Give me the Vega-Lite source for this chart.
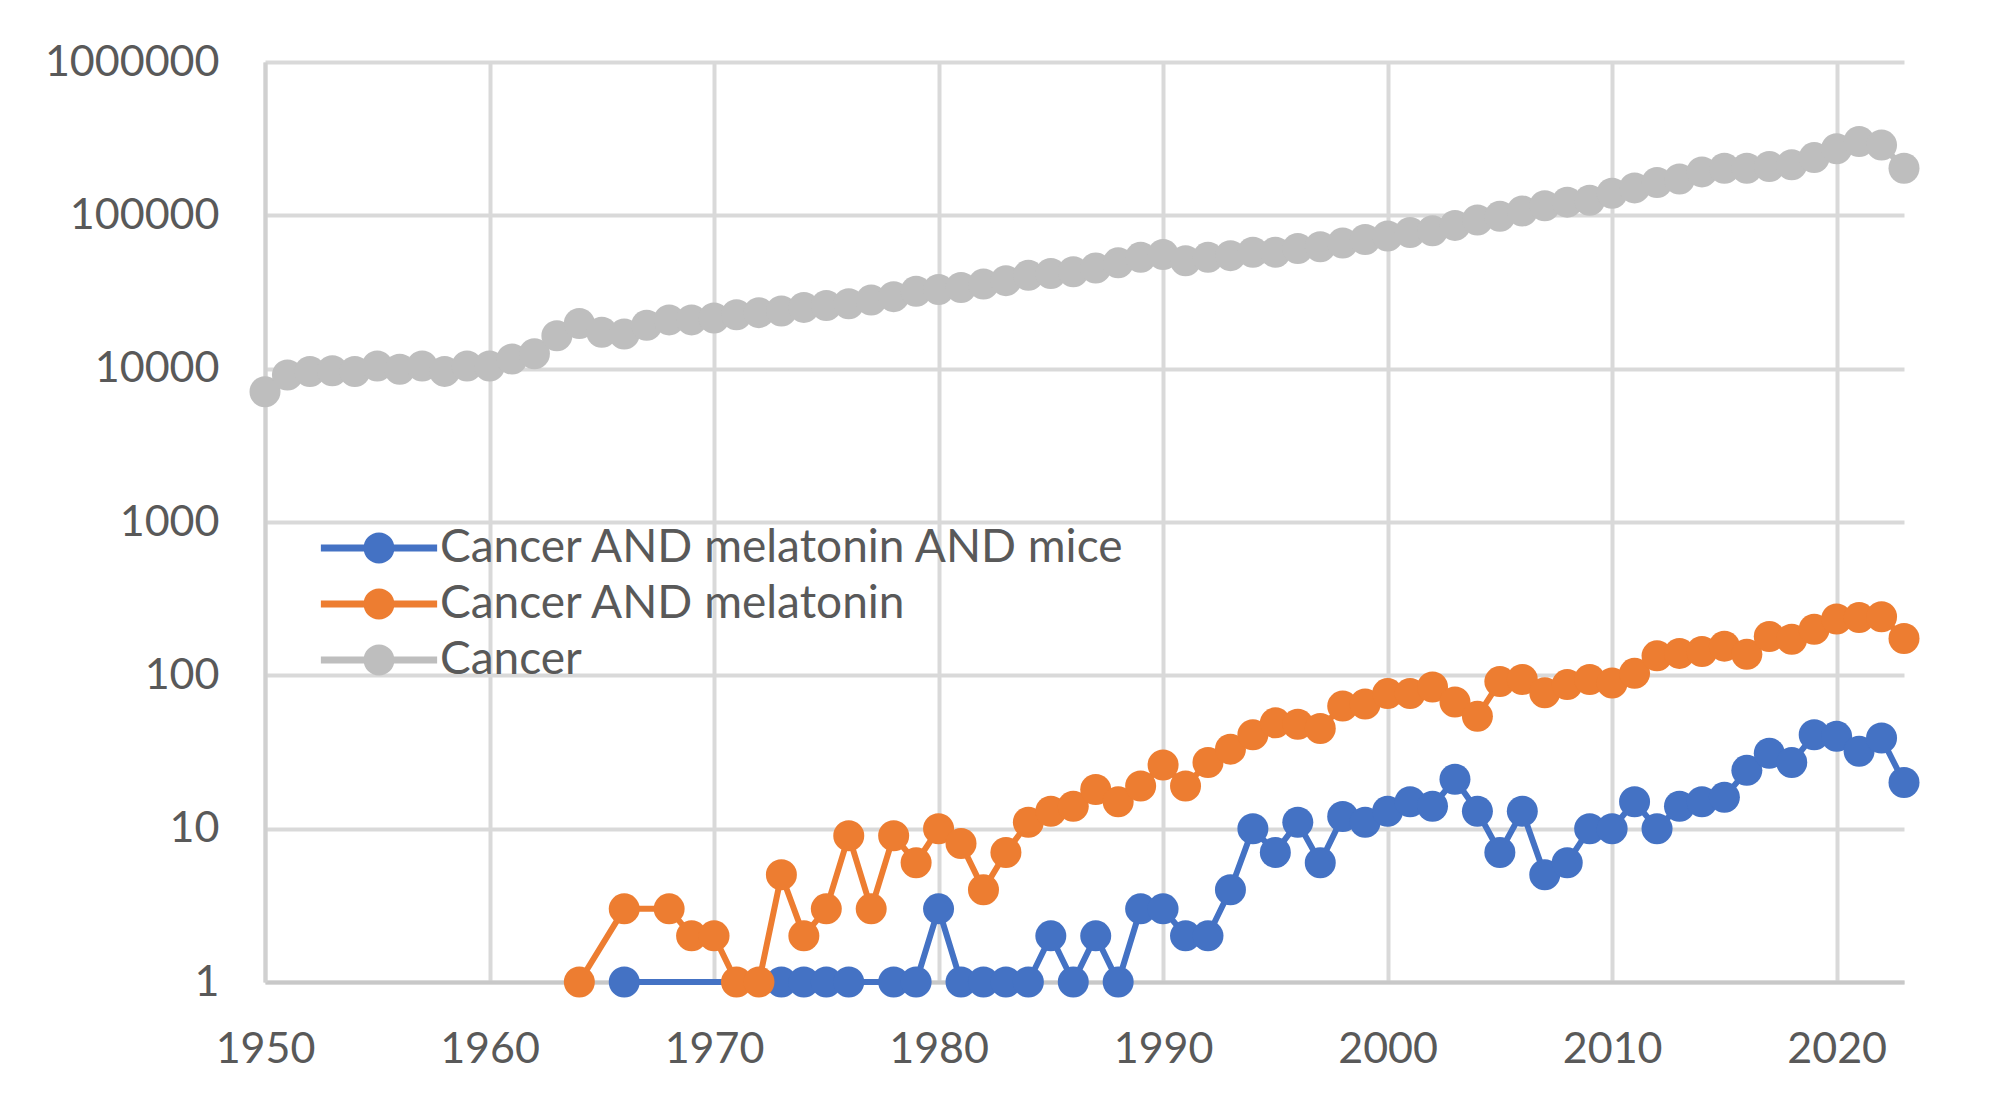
{
  "$schema": "https://vega.github.io/schema/vega-lite/v6.json",
  "width": 1639,
  "height": 920,
  "autosize": {"type": "none"},
  "padding": {"left": 265, "top": 62, "right": 96, "bottom": 125},
  "background": "white",
  "config": {
    "view": {"stroke": null},
    "font": "Lato",
    "axis": {"labelFont": "Lato", "labelFontSize": 43, "labelColor": "#595959", "ticks": false, "gridColor": "#d9d9d9", "gridWidth": 4, "title": null},
    "legend": {"labelFont": "Lato", "labelFontSize": 46, "labelColor": "#595959", "labelLimit": 0}
  },
  "data": {
    "values": [
      {"s": "Cancer AND melatonin AND mice", "year": 1966, "v": 1},
      {"s": "Cancer AND melatonin AND mice", "year": 1973, "v": 1},
      {"s": "Cancer AND melatonin AND mice", "year": 1974, "v": 1},
      {"s": "Cancer AND melatonin AND mice", "year": 1975, "v": 1},
      {"s": "Cancer AND melatonin AND mice", "year": 1976, "v": 1},
      {"s": "Cancer AND melatonin AND mice", "year": 1978, "v": 1},
      {"s": "Cancer AND melatonin AND mice", "year": 1979, "v": 1},
      {"s": "Cancer AND melatonin AND mice", "year": 1980, "v": 3},
      {"s": "Cancer AND melatonin AND mice", "year": 1981, "v": 1},
      {"s": "Cancer AND melatonin AND mice", "year": 1982, "v": 1},
      {"s": "Cancer AND melatonin AND mice", "year": 1983, "v": 1},
      {"s": "Cancer AND melatonin AND mice", "year": 1984, "v": 1},
      {"s": "Cancer AND melatonin AND mice", "year": 1985, "v": 2},
      {"s": "Cancer AND melatonin AND mice", "year": 1986, "v": 1},
      {"s": "Cancer AND melatonin AND mice", "year": 1987, "v": 2},
      {"s": "Cancer AND melatonin AND mice", "year": 1988, "v": 1},
      {"s": "Cancer AND melatonin AND mice", "year": 1989, "v": 3},
      {"s": "Cancer AND melatonin AND mice", "year": 1990, "v": 3},
      {"s": "Cancer AND melatonin AND mice", "year": 1991, "v": 2},
      {"s": "Cancer AND melatonin AND mice", "year": 1992, "v": 2},
      {"s": "Cancer AND melatonin AND mice", "year": 1993, "v": 4},
      {"s": "Cancer AND melatonin AND mice", "year": 1994, "v": 10},
      {"s": "Cancer AND melatonin AND mice", "year": 1995, "v": 7},
      {"s": "Cancer AND melatonin AND mice", "year": 1996, "v": 11},
      {"s": "Cancer AND melatonin AND mice", "year": 1997, "v": 6},
      {"s": "Cancer AND melatonin AND mice", "year": 1998, "v": 12},
      {"s": "Cancer AND melatonin AND mice", "year": 1999, "v": 11},
      {"s": "Cancer AND melatonin AND mice", "year": 2000, "v": 13},
      {"s": "Cancer AND melatonin AND mice", "year": 2001, "v": 15},
      {"s": "Cancer AND melatonin AND mice", "year": 2002, "v": 14},
      {"s": "Cancer AND melatonin AND mice", "year": 2003, "v": 21},
      {"s": "Cancer AND melatonin AND mice", "year": 2004, "v": 13},
      {"s": "Cancer AND melatonin AND mice", "year": 2005, "v": 7},
      {"s": "Cancer AND melatonin AND mice", "year": 2006, "v": 13},
      {"s": "Cancer AND melatonin AND mice", "year": 2007, "v": 5},
      {"s": "Cancer AND melatonin AND mice", "year": 2008, "v": 6},
      {"s": "Cancer AND melatonin AND mice", "year": 2009, "v": 10},
      {"s": "Cancer AND melatonin AND mice", "year": 2010, "v": 10},
      {"s": "Cancer AND melatonin AND mice", "year": 2011, "v": 15},
      {"s": "Cancer AND melatonin AND mice", "year": 2012, "v": 10},
      {"s": "Cancer AND melatonin AND mice", "year": 2013, "v": 14},
      {"s": "Cancer AND melatonin AND mice", "year": 2014, "v": 15},
      {"s": "Cancer AND melatonin AND mice", "year": 2015, "v": 16},
      {"s": "Cancer AND melatonin AND mice", "year": 2016, "v": 24},
      {"s": "Cancer AND melatonin AND mice", "year": 2017, "v": 31},
      {"s": "Cancer AND melatonin AND mice", "year": 2018, "v": 27},
      {"s": "Cancer AND melatonin AND mice", "year": 2019, "v": 41},
      {"s": "Cancer AND melatonin AND mice", "year": 2020, "v": 40},
      {"s": "Cancer AND melatonin AND mice", "year": 2021, "v": 32},
      {"s": "Cancer AND melatonin AND mice", "year": 2022, "v": 39},
      {"s": "Cancer AND melatonin AND mice", "year": 2023, "v": 20},
      {"s": "Cancer AND melatonin", "year": 1964, "v": 1},
      {"s": "Cancer AND melatonin", "year": 1966, "v": 3},
      {"s": "Cancer AND melatonin", "year": 1968, "v": 3},
      {"s": "Cancer AND melatonin", "year": 1969, "v": 2},
      {"s": "Cancer AND melatonin", "year": 1970, "v": 2},
      {"s": "Cancer AND melatonin", "year": 1971, "v": 1},
      {"s": "Cancer AND melatonin", "year": 1972, "v": 1},
      {"s": "Cancer AND melatonin", "year": 1973, "v": 5},
      {"s": "Cancer AND melatonin", "year": 1974, "v": 2},
      {"s": "Cancer AND melatonin", "year": 1975, "v": 3},
      {"s": "Cancer AND melatonin", "year": 1976, "v": 9},
      {"s": "Cancer AND melatonin", "year": 1977, "v": 3},
      {"s": "Cancer AND melatonin", "year": 1978, "v": 9},
      {"s": "Cancer AND melatonin", "year": 1979, "v": 6},
      {"s": "Cancer AND melatonin", "year": 1980, "v": 10},
      {"s": "Cancer AND melatonin", "year": 1981, "v": 8},
      {"s": "Cancer AND melatonin", "year": 1982, "v": 4},
      {"s": "Cancer AND melatonin", "year": 1983, "v": 7},
      {"s": "Cancer AND melatonin", "year": 1984, "v": 11},
      {"s": "Cancer AND melatonin", "year": 1985, "v": 13},
      {"s": "Cancer AND melatonin", "year": 1986, "v": 14},
      {"s": "Cancer AND melatonin", "year": 1987, "v": 18},
      {"s": "Cancer AND melatonin", "year": 1988, "v": 15},
      {"s": "Cancer AND melatonin", "year": 1989, "v": 19},
      {"s": "Cancer AND melatonin", "year": 1990, "v": 26},
      {"s": "Cancer AND melatonin", "year": 1991, "v": 19},
      {"s": "Cancer AND melatonin", "year": 1992, "v": 27},
      {"s": "Cancer AND melatonin", "year": 1993, "v": 33},
      {"s": "Cancer AND melatonin", "year": 1994, "v": 41},
      {"s": "Cancer AND melatonin", "year": 1995, "v": 49},
      {"s": "Cancer AND melatonin", "year": 1996, "v": 48},
      {"s": "Cancer AND melatonin", "year": 1997, "v": 45},
      {"s": "Cancer AND melatonin", "year": 1998, "v": 63},
      {"s": "Cancer AND melatonin", "year": 1999, "v": 65},
      {"s": "Cancer AND melatonin", "year": 2000, "v": 76},
      {"s": "Cancer AND melatonin", "year": 2001, "v": 76},
      {"s": "Cancer AND melatonin", "year": 2002, "v": 84},
      {"s": "Cancer AND melatonin", "year": 2003, "v": 67},
      {"s": "Cancer AND melatonin", "year": 2004, "v": 54},
      {"s": "Cancer AND melatonin", "year": 2005, "v": 91},
      {"s": "Cancer AND melatonin", "year": 2006, "v": 94},
      {"s": "Cancer AND melatonin", "year": 2007, "v": 77},
      {"s": "Cancer AND melatonin", "year": 2008, "v": 87},
      {"s": "Cancer AND melatonin", "year": 2009, "v": 94},
      {"s": "Cancer AND melatonin", "year": 2010, "v": 89},
      {"s": "Cancer AND melatonin", "year": 2011, "v": 103},
      {"s": "Cancer AND melatonin", "year": 2012, "v": 134},
      {"s": "Cancer AND melatonin", "year": 2013, "v": 139},
      {"s": "Cancer AND melatonin", "year": 2014, "v": 143},
      {"s": "Cancer AND melatonin", "year": 2015, "v": 155},
      {"s": "Cancer AND melatonin", "year": 2016, "v": 137},
      {"s": "Cancer AND melatonin", "year": 2017, "v": 179},
      {"s": "Cancer AND melatonin", "year": 2018, "v": 172},
      {"s": "Cancer AND melatonin", "year": 2019, "v": 200},
      {"s": "Cancer AND melatonin", "year": 2020, "v": 233},
      {"s": "Cancer AND melatonin", "year": 2021, "v": 238},
      {"s": "Cancer AND melatonin", "year": 2022, "v": 241},
      {"s": "Cancer AND melatonin", "year": 2023, "v": 174},
      {"s": "Cancer", "year": 1950, "v": 7070},
      {"s": "Cancer", "year": 1951, "v": 9090},
      {"s": "Cancer", "year": 1952, "v": 9580},
      {"s": "Cancer", "year": 1953, "v": 9700},
      {"s": "Cancer", "year": 1954, "v": 9580},
      {"s": "Cancer", "year": 1955, "v": 10400},
      {"s": "Cancer", "year": 1956, "v": 9900},
      {"s": "Cancer", "year": 1957, "v": 10400},
      {"s": "Cancer", "year": 1958, "v": 9600},
      {"s": "Cancer", "year": 1959, "v": 10400},
      {"s": "Cancer", "year": 1960, "v": 10400},
      {"s": "Cancer", "year": 1961, "v": 11550},
      {"s": "Cancer", "year": 1962, "v": 12500},
      {"s": "Cancer", "year": 1963, "v": 16400},
      {"s": "Cancer", "year": 1964, "v": 19700},
      {"s": "Cancer", "year": 1965, "v": 17300},
      {"s": "Cancer", "year": 1966, "v": 16800},
      {"s": "Cancer", "year": 1967, "v": 19200},
      {"s": "Cancer", "year": 1968, "v": 20800},
      {"s": "Cancer", "year": 1969, "v": 20800},
      {"s": "Cancer", "year": 1970, "v": 21400},
      {"s": "Cancer", "year": 1971, "v": 22500},
      {"s": "Cancer", "year": 1972, "v": 23200},
      {"s": "Cancer", "year": 1973, "v": 23800},
      {"s": "Cancer", "year": 1974, "v": 25100},
      {"s": "Cancer", "year": 1975, "v": 25800},
      {"s": "Cancer", "year": 1976, "v": 26500},
      {"s": "Cancer", "year": 1977, "v": 28000},
      {"s": "Cancer", "year": 1978, "v": 29500},
      {"s": "Cancer", "year": 1979, "v": 32000},
      {"s": "Cancer", "year": 1980, "v": 32800},
      {"s": "Cancer", "year": 1981, "v": 33800},
      {"s": "Cancer", "year": 1982, "v": 35600},
      {"s": "Cancer", "year": 1983, "v": 37500},
      {"s": "Cancer", "year": 1984, "v": 40600},
      {"s": "Cancer", "year": 1985, "v": 41700},
      {"s": "Cancer", "year": 1986, "v": 42900},
      {"s": "Cancer", "year": 1987, "v": 45300},
      {"s": "Cancer", "year": 1988, "v": 49000},
      {"s": "Cancer", "year": 1989, "v": 53200},
      {"s": "Cancer", "year": 1990, "v": 55500},
      {"s": "Cancer", "year": 1991, "v": 50500},
      {"s": "Cancer", "year": 1992, "v": 53200},
      {"s": "Cancer", "year": 1993, "v": 54600},
      {"s": "Cancer", "year": 1994, "v": 57500},
      {"s": "Cancer", "year": 1995, "v": 57500},
      {"s": "Cancer", "year": 1996, "v": 60800},
      {"s": "Cancer", "year": 1997, "v": 62400},
      {"s": "Cancer", "year": 1998, "v": 65900},
      {"s": "Cancer", "year": 1999, "v": 69500},
      {"s": "Cancer", "year": 2000, "v": 73300},
      {"s": "Cancer", "year": 2001, "v": 77300},
      {"s": "Cancer", "year": 2002, "v": 79400},
      {"s": "Cancer", "year": 2003, "v": 86000},
      {"s": "Cancer", "year": 2004, "v": 93300},
      {"s": "Cancer", "year": 2005, "v": 98500},
      {"s": "Cancer", "year": 2006, "v": 106700},
      {"s": "Cancer", "year": 2007, "v": 115600},
      {"s": "Cancer", "year": 2008, "v": 121900},
      {"s": "Cancer", "year": 2009, "v": 125300},
      {"s": "Cancer", "year": 2010, "v": 139400},
      {"s": "Cancer", "year": 2011, "v": 151000},
      {"s": "Cancer", "year": 2012, "v": 163700},
      {"s": "Cancer", "year": 2013, "v": 172600},
      {"s": "Cancer", "year": 2014, "v": 192000},
      {"s": "Cancer", "year": 2015, "v": 202600},
      {"s": "Cancer", "year": 2016, "v": 202600},
      {"s": "Cancer", "year": 2017, "v": 208300},
      {"s": "Cancer", "year": 2018, "v": 213800},
      {"s": "Cancer", "year": 2019, "v": 238000},
      {"s": "Cancer", "year": 2020, "v": 272000},
      {"s": "Cancer", "year": 2021, "v": 303000},
      {"s": "Cancer", "year": 2022, "v": 287000},
      {"s": "Cancer", "year": 2023, "v": 203000}
    ]
  },
  "encoding": {
    "x": {
      "field": "year", "type": "quantitative",
      "scale": {"domain": [1950, 2023], "nice": false, "zero": false},
      "axis": {"values": [1950, 1960, 1970, 1980, 1990, 2000, 2010, 2020], "format": "d", "labelFlush": false, "labelPadding": 46, "labelBaseline": "top", "domainColor": "#c8c8c8", "domainWidth": 4, "grid": true}
    },
    "y": {
      "field": "v", "type": "quantitative",
      "scale": {"type": "log", "domain": [1, 1000000], "nice": false},
      "axis": {"values": [1, 10, 100, 1000, 10000, 100000, 1000000], "format": "d", "labelPadding": 46, "domainColor": "#d0d0d0", "domainWidth": 4}
    },
    "color": {
      "field": "s", "type": "nominal",
      "scale": {"domain": ["Cancer AND melatonin AND mice", "Cancer AND melatonin", "Cancer"], "range": ["#4472C4", "#ED7D31", "#BEBEBE"]},
      "legend": {
        "title": null, "orient": "none", "legendX": 91, "legendY": 463, "direction": "vertical", "padding": 0,
        "symbolType": "M-3.75,-0.23H3.75V0.23H-3.75Z M1,0A1,1 0 1,1 -1,0A1,1 0 1,1 1,0Z",
        "symbolSize": 961, "symbolStrokeWidth": 0, "symbolOpacity": 1,
        "labelOffset": 38, "rowPadding": 10
      }
    }
  },
  "layer": [
    {"mark": {"type": "line", "strokeWidth": 6}},
    {"mark": {"type": "point", "filled": true, "shape": "circle", "size": 961, "opacity": 1}}
  ]
}
